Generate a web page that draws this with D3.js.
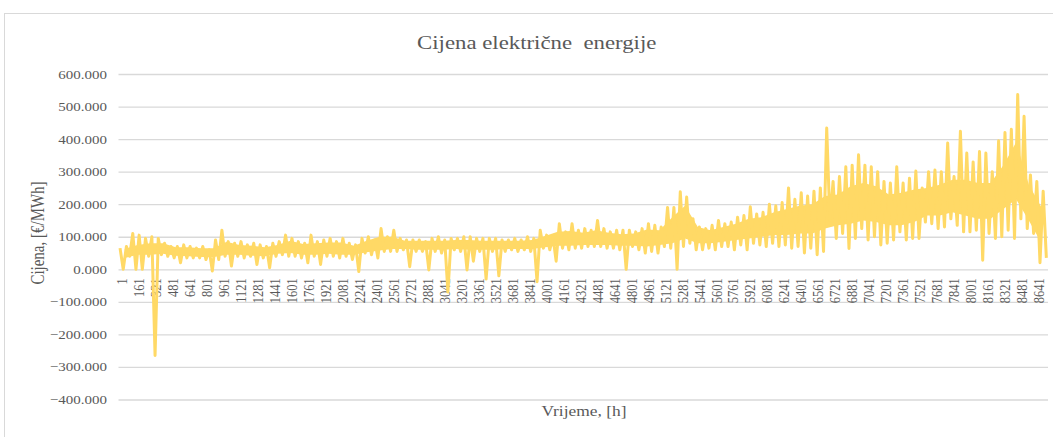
<!DOCTYPE html>
<html>
<head>
<meta charset="utf-8">
<script src="https://cdn.jsdelivr.net/npm/d3@7"></script>
<style>
  body { margin: 0; background: #fff; }
  text { font-family: "Liberation Serif", "Times New Roman", serif; fill: #595959; }
</style>
</head>
<body>
<svg id="priceChart" width="1053" height="437"></svg>
<script>
// hourly price, per 60 h block: highest and lowest hour
const blockHours = 60;
const blockHigh = [
  65, 70, 110, 105, 95, 100, 95, 80, 70, 70,
  75, 70, 65, 70, 60, 90, 120, 85, 80, 85,
  75, 80, 75, 70, 80, 85, 105, 95, 85, 80,
  105, 85, 90, 95, 85, 95, 80, 75, 95, 100,
  90, 125, 100, 120, 95, 90, 90, 90, 85, 95,
  100, 90, 95, 95, 100, 100, 95, 95, 95, 95,
  90, 90, 95, 90, 100, 95, 120, 105, 100, 140,
  115, 140, 120, 125, 120, 150, 125, 115, 120, 120,
  120, 115, 125, 140, 135, 130, 190, 190, 238, 222,
  155, 130, 125, 135, 150, 140, 145, 160, 165, 192,
  170, 175, 200, 195, 205, 250, 215, 235, 225, 240,
  250, 434, 270, 285, 315, 320, 352, 320, 315, 300,
  270, 265, 315, 265, 280, 302, 250, 300, 305, 300,
  388, 285, 424, 357, 330, 362, 357, 300, 395, 420,
  430, 537, 470, 290, 270, 240
];
const blockLow = [
  0, 40, 0, 0, 40, -265, 45, 40, 35, 20,
  35, 35, 35, 30, -5, 30, 40, 10, 40, 35,
  40, 15, 35, 5, 40, 45, 40, 40, 35, 20,
  40, 15, 40, 40, 35, 40, 30, -7, 50, 45,
  35, 55, 55, 55, 60, 8, 55, 55, -2, 55,
  50, -70, 60, 55, -2, 25, 55, -30, 55, -20,
  55, 60, 55, 60, 55, -38, 65, 60, 25, 65,
  60, 65, 65, 70, 70, 70, 65, 65, 60, 0,
  70, 60, 50, 55, 50, 70, 65, 0, 70, 80,
  60, 60, 65, 60, 70, 70, 60, 75, 60, 80,
  75, 70, 80, 70, 75, 65, 70, 50, 65, 45,
  55, 150, 95, 110, 64, 95, 125, 90, 100, 75,
  80, 90, 115, 90, 95, 95, 145, 140, 125, 130,
  155, 135, 115, 115, 120, 28, 110, 95, 100, 120,
  95, 155, 125, 110, 20, 35
];
// the solid part of the band, per 120 h block: top and bottom
const coreHours = 120;
const coreTop = [
  62, 75, 80, 80, 68, 68, 65, 65, 85, 75,
  72, 68, 75, 88, 78, 80, 82, 82, 72, 88,
  100, 100, 88, 88, 88, 88, 90, 90, 88, 88,
  88, 88, 90, 102, 115, 118, 112, 120, 112, 108,
  110, 122, 120, 160, 195, 130, 120, 130, 140, 155,
  160, 175, 185, 195, 200, 225, 230, 255, 265, 255,
  230, 235, 245, 250, 260, 275, 275, 265, 265, 320,
  390, 260, 190
];
const coreBottom = [
  35, 45, 45, 48, 42, 40, 38, 38, 45, 45,
  42, 40, 48, 50, 45, 45, 48, 45, 45, 52,
  58, 62, 62, 60, 60, 60, 62, 60, 60, 60,
  62, 62, 62, 68, 72, 72, 75, 75, 75, 72,
  72, 70, 75, 80, 95, 80, 80, 85, 90, 95,
  100, 105, 105, 110, 110, 125, 135, 140, 150, 145,
  135, 135, 145, 165, 165, 175, 165, 155, 155, 185,
  215, 150, 80
];
const hoursInYear = 8760;
const yTickValues = [-400, -300, -200, -100, 0, 100, 200, 300, 400, 500, 600];
const xTickHours = d3.range(1, hoursInYear + 1, 160);

const titleText = 'Cijena električne  energije';
const yTitleText = 'Cijena, [€/MWh]';
const xTitleText = 'Vrijeme, [h]';

const sx = 1.2; // the text in the picture is stretched sideways
const lineColor = '#ffd966';
const plot = { left: 118.5, right: 1048, top: 74, bottom: 399.5 };
const svg = d3.select('#priceChart');

// chart border
svg.append('rect')
  .attr('x', 4.5).attr('y', 13.5)
  .attr('width', 1100).attr('height', 500)
  .attr('fill', 'none')
  .attr('stroke', '#d9d9d9');

const xScale = d3.scaleLinear()
  .domain([0.5, hoursInYear + 0.5])
  .range([plot.left, plot.right]);

const yScale = d3.scaleLinear()
  .domain([-400, 600])
  .range([plot.bottom, plot.top]);

// y axis + gridlines
const yAxisG = svg.append('g')
  .attr('transform', `translate(${plot.left},0)`)
  .call(d3.axisLeft(yScale)
    .tickValues(yTickValues)
    .tickSize(-(plot.right - plot.left))
    .tickPadding(9.6)
    .tickFormat(d3.format('.3f')));
yAxisG.select('.domain').remove();
yAxisG.selectAll('line').attr('stroke', '#d9d9d9').attr('stroke-width', 1.3);
yAxisG.selectAll('text')
  .attr('font-size', 12.5)
  .attr('font-family', null)
  .attr('fill', '#595959')
  .attr('transform', `scale(${sx},1)`);

// x axis labels, rotated
const xAxisG = svg.append('g')
  .attr('transform', `translate(0,${yScale(0)})`)
  .call(d3.axisBottom(xScale)
    .tickValues(xTickHours)
    .tickSize(0)
    .tickFormat(d3.format('d')));
xAxisG.select('.domain').remove();
xAxisG.selectAll('text')
  .attr('font-size', 12.5)
  .attr('font-family', null)
  .attr('fill', '#595959')
  .attr('x', 0).attr('y', 0).attr('dy', '0.35em')
  .attr('text-anchor', 'end')
  .attr('transform', `translate(3,9) scale(${sx},1) rotate(-90)`);

// solid core of the band
const core = coreTop.map(function (t, i) {
  return { hour: i * coreHours + coreHours / 2, top: t, bottom: coreBottom[i] };
});

const area = d3.area()
  .x(function (d) { return xScale(d.hour); })
  .y0(function (d) { return yScale(d.bottom); })
  .y1(function (d) { return yScale(d.top); });

svg.append('path')
  .datum(core)
  .attr('d', area)
  .attr('fill', lineColor);

// the price line: high then low of each block
const points = [];
blockHigh.forEach(function (hi, i) {
  points.push({ hour: i * blockHours + 15, price: hi });
  points.push({ hour: i * blockHours + 45, price: blockLow[i] });
});

const line = d3.line()
  .x(function (d) { return xScale(d.hour); })
  .y(function (d) { return yScale(d.price); });

svg.append('path')
  .datum(points)
  .attr('d', line)
  .attr('fill', 'none')
  .attr('stroke', lineColor)
  .attr('stroke-width', 3)
  .attr('stroke-linejoin', 'round');

// titles
svg.append('text')
  .attr('transform', `translate(536.7,49) scale(${sx},1)`)
  .attr('text-anchor', 'middle')
  .style('white-space', 'pre')
  .attr('font-size', 19)
  .text(titleText);

svg.append('text')
  .attr('transform', `translate(38,233) scale(${sx},1) rotate(-90)`)
  .attr('text-anchor', 'middle')
  .attr('dy', '0.35em')
  .attr('font-size', 15)
  .text(yTitleText);

svg.append('text')
  .attr('transform', `translate(584,416) scale(${sx},1)`)
  .attr('text-anchor', 'middle')
  .attr('font-size', 14.5)
  .text(xTitleText);
</script>
</body>
</html>
